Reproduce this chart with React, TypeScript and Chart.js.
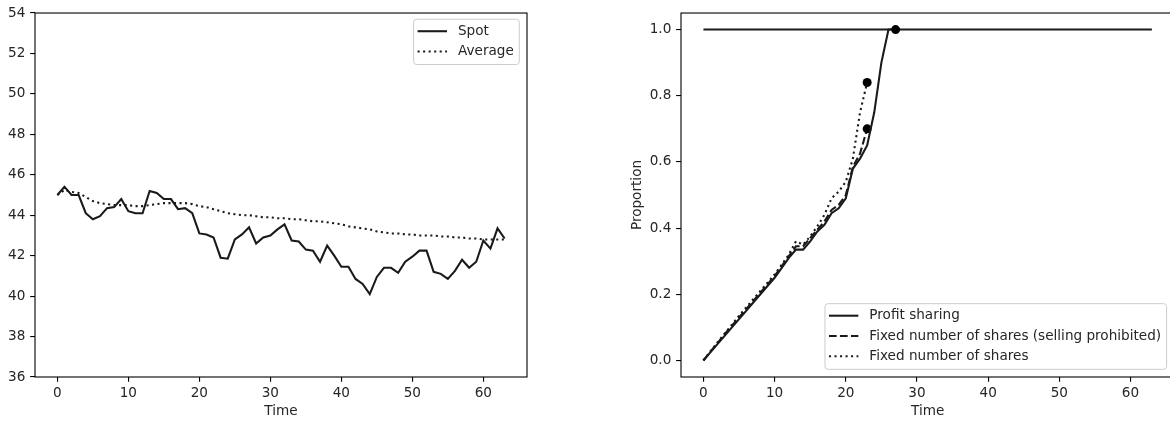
import React, { useEffect, useRef } from "react";
import { Chart, registerables } from "chart.js";

Chart.register(...registerables);

// ---------- data ----------
const spotValues = [
  45.0, 45.4, 45.0, 45.0, 44.1, 43.8, 43.95, 44.35, 44.4, 44.8,
  44.2, 44.1, 44.1, 45.2, 45.1, 44.8, 44.8, 44.3, 44.35, 44.1,
  43.1, 43.05, 42.9, 41.9, 41.85, 42.8, 43.05, 43.4, 42.6, 42.9,
  43.0, 43.3, 43.55, 42.75, 42.7, 42.3, 42.25, 41.7, 42.5, 42.0,
  41.45, 41.45, 40.85, 40.6, 40.1, 40.95, 41.4, 41.4, 41.15, 41.7,
  41.95, 42.25, 42.25, 41.2, 41.1, 40.85, 41.25, 41.8, 41.4, 41.7,
  42.75, 42.35, 43.35, 42.85,
];
const averageValues = [
  45.0, 45.25, 45.15, 45.1, 44.9, 44.7, 44.6, 44.55, 44.5, 44.5,
  44.5, 44.45, 44.45, 44.5, 44.55, 44.6, 44.6, 44.6, 44.6, 44.55,
  44.45, 44.4, 44.3, 44.2, 44.1, 44.05, 44.0, 44.0, 43.95, 43.9,
  43.9, 43.85, 43.85, 43.8, 43.8, 43.75, 43.7, 43.7, 43.65, 43.6,
  43.55, 43.45, 43.4, 43.35, 43.3, 43.2, 43.15, 43.1, 43.1, 43.05,
  43.05, 43.0, 43.0, 43.0, 42.95, 42.95, 42.9, 42.9, 42.85, 42.85,
  42.8, 42.8, 42.8, 42.8,
];
const profitSharing = [
  0, 0.025, 0.05, 0.075, 0.1, 0.125, 0.15, 0.175, 0.2, 0.225,
  0.25, 0.28, 0.31, 0.335, 0.335, 0.36, 0.39, 0.41, 0.445, 0.46,
  0.49, 0.58, 0.61, 0.65, 0.75, 0.9, 1.0, 1.0,
];
const fixedSellingProhibited = [
  0, 0.027, 0.053, 0.08, 0.105, 0.13, 0.155, 0.18, 0.205, 0.23,
  0.255, 0.285, 0.315, 0.345, 0.345, 0.37, 0.395, 0.42, 0.455, 0.47,
  0.5, 0.585, 0.625, 0.7,
];
const fixedShares = [
  0, 0.028, 0.055, 0.082, 0.108, 0.135, 0.16, 0.185, 0.21, 0.235,
  0.26, 0.29, 0.32, 0.36, 0.35, 0.375, 0.405, 0.44, 0.49, 0.51,
  0.54, 0.61, 0.75, 0.84,
];
const fullLevelTimes = [0, 63];
const fullLevelValues = [1, 1];

const timeTicks = [0, 10, 20, 30, 40, 50, 60];
const priceTicks = [36, 38, 40, 42, 44, 46, 48, 50, 52, 54];
const proportionTicks = [0, 0.2, 0.4, 0.6, 0.8, 1.0];

const leftLegendLabels = ["Spot", "Average"];
const rightLegendLabels = [
  "Profit sharing",
  "Fixed number of shares (selling prohibited)",
  "Fixed number of shares",
];

// ---------- styles ----------
const FONT_FAMILY = '"DejaVu Sans", sans-serif';
const FONT_SIZE = 13.6;
const TEXT = "#262626";
const LINE = "#1a1a1a";
const LW = 2.08;
const DOTTED = [2.08, 3.44];
const DASHED = [7.7, 3.3];

const toXY = (vals: number[]) => vals.map((y, i) => ({ x: i, y }));

const framePlugin = {
  id: "frame",
  afterDatasetsDraw(chart: any) {
    const { ctx, chartArea: a } = chart;
    ctx.save();
    ctx.strokeStyle = "#000";
    ctx.lineWidth = 1.1;
    ctx.strokeRect(a.left, a.top, a.right - a.left, a.bottom - a.top);
    ctx.restore();
  },
};

function makeLegendPlugin(
  id: string,
  labels: string[],
  dashes: number[][],
  corner: "ur" | "lr"
) {
  return {
    id,
    afterDraw(chart: any) {
      const { ctx, chartArea } = chart;
      ctx.save();
      ctx.font = `${FONT_SIZE}px ${FONT_FAMILY}`;
      const tw = Math.max(...labels.map((l) => ctx.measureText(l).width));
      const rowH = 20.3;
      const boxW = 4 + 29.4 + 11 + tw + 5.5;
      const boxH = 12 + rowH * (labels.length - 1) + 13;
      const right = chartArea.right - 7.7;
      const x0 = right - boxW;
      const y0 =
        corner === "ur" ? chartArea.top + 6.2 : chartArea.bottom - 7.7 - boxH;
      ctx.beginPath();
      ctx.roundRect(x0, y0, boxW, boxH, 3);
      ctx.fillStyle = "rgba(255,255,255,0.8)";
      ctx.fill();
      ctx.strokeStyle = "#cccccc";
      ctx.lineWidth = 1;
      ctx.stroke();
      labels.forEach((label, i) => {
        const cy = y0 + 12 + i * rowH;
        ctx.beginPath();
        ctx.setLineDash(dashes[i]);
        ctx.lineCap = "butt";
        ctx.moveTo(x0 + 4, cy);
        ctx.lineTo(x0 + 33.4, cy);
        ctx.strokeStyle = LINE;
        ctx.lineWidth = LW;
        ctx.stroke();
        ctx.setLineDash([]);
        ctx.fillStyle = TEXT;
        ctx.textBaseline = "middle";
        ctx.textAlign = "left";
        ctx.fillText(label, x0 + 44.4, cy);
      });
      ctx.restore();
    },
  };
}

const tickFont = { family: FONT_FAMILY, size: FONT_SIZE };
const gridOpts = {
  drawOnChartArea: false,
  drawTicks: true,
  tickLength: 4.86,
  color: "#000",
  lineWidth: 1.1,
};

function xAxis() {
  return {
    type: "linear" as const,
    min: -3.15,
    max: 66.15,
    grid: gridOpts,
    border: { display: false },
    ticks: {
      font: tickFont,
      color: TEXT,
      padding: 3.5,
      maxRotation: 0,
      callback: (v: any) => String(v),
    },
    afterBuildTicks: (s: any) => {
      s.ticks = timeTicks.map((v) => ({ value: v }));
    },
    afterFit: (s: any) => {
      s.height = 49;
    },
    title: {
      display: true,
      text: "Time",
      color: TEXT,
      font: tickFont,
      padding: { top: 0, bottom: 6.1 },
    },
  };
}

function lineDs(label: string, data: any[], dash: number[] | undefined, radius = 0) {
  return {
    label,
    data,
    borderColor: LINE,
    backgroundColor: LINE,
    borderWidth: LW,
    borderDash: dash || [],
    borderCapStyle: "butt" as const,
    pointRadius: (c: any) => (radius && c.dataIndex === data.length - 1 ? radius : 0),
    pointBackgroundColor: "#000",
    pointBorderWidth: 0,
    tension: 0,
    fill: false,
  };
}

export default function App() {
  const leftRef = useRef<HTMLCanvasElement>(null);
  const rightRef = useRef<HTMLCanvasElement>(null);

  useEffect(() => {
    const left = new Chart(leftRef.current as HTMLCanvasElement, {
      type: "line",
      data: {
        datasets: [
          lineDs("Spot", toXY(spotValues), undefined),
          lineDs("Average", toXY(averageValues), DOTTED),
        ],
      },
      options: {
        responsive: false,
        maintainAspectRatio: false,
        animation: false,
        devicePixelRatio: 1,
        layout: { padding: { left: 0, right: 33, top: 10.5, bottom: 0 } },
        plugins: { legend: { display: false }, tooltip: { enabled: false } },
        scales: {
          x: xAxis(),
          y: {
            type: "linear",
            min: 36,
            max: 54,
            grid: gridOpts,
            border: { display: false },
            ticks: { font: tickFont, color: TEXT, padding: 4.86 },
            afterBuildTicks: (s: any) => {
              s.ticks = priceTicks.map((v) => ({ value: v }));
            },
            afterFit: (s: any) => {
              s.width = 35;
            },
          },
        },
      } as any,
      plugins: [
        framePlugin,
        makeLegendPlugin("legL", leftLegendLabels, [[], DOTTED], "ur"),
      ],
    });

    const right = new Chart(rightRef.current as HTMLCanvasElement, {
      type: "line",
      data: {
        datasets: [
          lineDs("Profit sharing", toXY(profitSharing), undefined, 4.5),
          lineDs("Fixed number of shares (selling prohibited)", toXY(fixedSellingProhibited), DASHED, 4.5),
          lineDs("Fixed number of shares", toXY(fixedShares), DOTTED, 4.5),
          lineDs(
            "Full",
            fullLevelTimes.map((x, i) => ({ x, y: fullLevelValues[i] })),
            undefined
          ),
        ],
      },
      options: {
        responsive: false,
        maintainAspectRatio: false,
        animation: false,
        devicePixelRatio: 1,
        layout: { padding: { left: 0, right: 25.7, top: 10.5, bottom: 0 } },
        plugins: { legend: { display: false }, tooltip: { enabled: false } },
        scales: {
          x: xAxis(),
          y: {
            type: "linear",
            min: -0.05,
            max: 1.05,
            grid: gridOpts,
            border: { display: false },
            ticks: {
              font: tickFont,
              color: TEXT,
              padding: 4.86,
              callback: (v: any) => Number(v).toFixed(1),
            },
            afterBuildTicks: (s: any) => {
              s.ticks = proportionTicks.map((v) => ({ value: v }));
            },
            afterFit: (s: any) => {
              s.width = 121;
            },
            title: {
              display: true,
              text: "Proportion",
              color: TEXT,
              font: tickFont,
              padding: { top: 69.1, bottom: 0 },
            },
          },
        },
      } as any,
      plugins: [
        framePlugin,
        makeLegendPlugin(
          "legR",
          rightLegendLabels,
          [[], DASHED, DOTTED],
          "lr"
        ),
      ],
    });

    return () => {
      left.destroy();
      right.destroy();
    };
  }, []);

  return (
    <div
      style={{
        position: "fixed",
        left: 0,
        top: 0,
        width: 1170,
        height: 426,
        overflow: "hidden",
        background: "#fff",
      }}
    >
      <canvas
        ref={leftRef}
        width={560}
        height={426}
        style={{ position: "absolute", left: 0, top: 0, width: 560, height: 426 }}
      />
      <canvas
        ref={rightRef}
        width={640}
        height={426}
        style={{ position: "absolute", left: 560, top: 0, width: 640, height: 426 }}
      />
    </div>
  );
}
